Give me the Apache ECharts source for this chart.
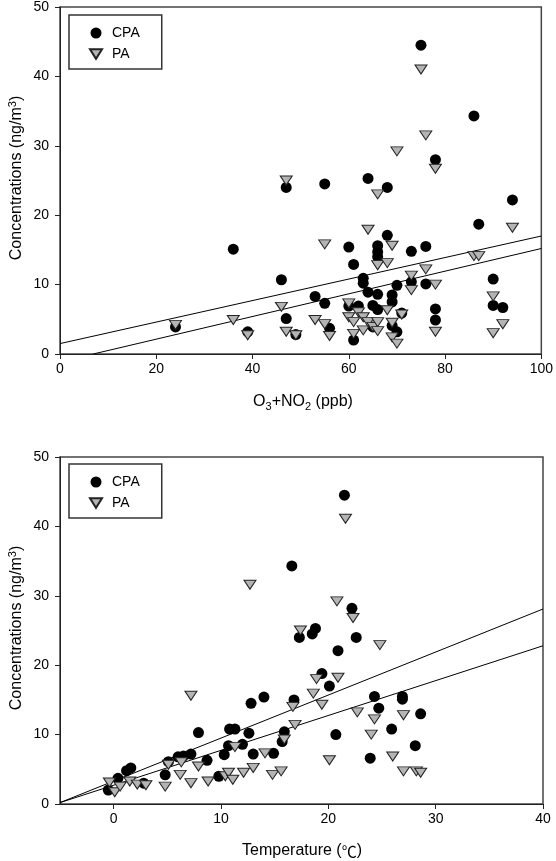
<!DOCTYPE html>
<html>
<head>
<meta charset="utf-8">
<script src="https://cdn.jsdelivr.net/npm/echarts@6/dist/echarts.min.js"></script>
<style>
  html, body {margin: 0; padding: 0; background: #fff;}
  #chart {width: 556px; height: 861px;}
</style>
</head>
<body>
<div id="chart"></div>
<script>
// top panel: O3+NO2 (ppb) vs concentration
const topCPA = [
  [24, 3.9], [36, 15.1], [39, 3.2], [46, 10.7], [47, 24], [47, 5.1], [49, 2.8], [53, 8.3],
  [55, 24.5], [55, 7.3], [56, 3.7], [60, 15.4], [60, 6.9], [61, 12.9], [61, 2.0], [62, 6.9],
  [63, 10.9], [63, 10.2], [64, 25.3], [64, 8.9], [65, 7.0], [65, 3.9], [66, 15.6], [66, 14.7],
  [66, 14.0], [66, 8.6], [66, 6.4], [68, 24], [68, 17.1], [69, 8.5], [69, 7.5], [69, 4.1],
  [70, 9.9], [70, 3.2], [71, 5.9], [73, 14.8], [73, 10.4], [75, 44.5], [76, 15.5], [76, 10.1],
  [78, 28], [78, 6.5], [78, 4.9], [86, 34.3], [87, 18.7], [90, 10.8], [90, 7.0], [92, 6.7], [94, 22.2],
]
const topPA = [
  [24, 4.2], [36, 4.9], [39, 2.7], [46, 6.8], [47, 25], [47, 3.2], [49, 2.7], [53, 4.9],
  [55, 15.8], [55, 4.3], [56, 2.6], [60, 7.3], [60, 5.3], [61, 4.6], [61, 2.9], [62, 6.0],
  [63, 5.3], [63, 3.4], [64, 17.9], [64, 4.6], [65, 3.9], [66, 23], [66, 12.8], [66, 4.6],
  [66, 3.3], [68, 13.1], [68, 6.3], [69, 15.6], [69, 4.5], [69, 2.4], [70, 29.2], [70, 1.5],
  [71, 5.7], [73, 11.3], [73, 9.2], [75, 41], [76, 31.5], [76, 12.2], [78, 26.7], [78, 10],
  [78, 3.2], [86, 14.1], [87, 14.1], [90, 8.3], [90, 3.0], [92, 4.3], [94, 18.2],
]
const topFitCPA = [[0, 1.5], [100, 17.0]]
const topFitPA = [[6.9, 0], [100, 15.2]]

// bottom panel: temperature vs concentration
const botCPA = [
  [-0.5, 2.0], [0.4, 3.7], [1.2, 4.8], [1.6, 5.2], [2.8, 3.0], [4.8, 4.2], [5.1, 6.1], [6, 6.8],
  [6.5, 6.9], [7.2, 7.2], [7.9, 10.3], [8.7, 6.3], [9.8, 4.0], [10.3, 7.1], [10.7, 8.4], [10.8, 10.8],
  [11.3, 10.8], [12, 8.6], [12.6, 10.2], [12.8, 14.5], [13, 7.2], [14, 15.4], [14.9, 7.3], [15.7, 9.0],
  [15.9, 10.4], [16.6, 34.3], [16.8, 15], [17.3, 24], [18.5, 24.5], [18.8, 25.3], [19.4, 18.8],
  [20.1, 17], [20.7, 10], [20.9, 22.1], [21.5, 44.5], [22.2, 28.2], [22.6, 24], [23.9, 6.6],
  [24.3, 15.5], [24.7, 13.8], [25.9, 10.8], [26.9, 15.5], [26.9, 15.1], [28.1, 8.4], [28.6, 13],
]
const botPA = [
  [-0.4, 3.1], [0.1, 1.7], [0.6, 2.5], [1.5, 3.25], [2.2, 2.8], [3.0, 2.7], [4.8, 2.5], [5.1, 5.65],
  [6.2, 4.2], [6.3, 6.0], [7.2, 15.6], [7.2, 3.0], [7.9, 5.4], [8.8, 3.25], [10.4, 4.0], [10.7, 4.5],
  [11.1, 3.5], [11.3, 8.2], [12.1, 4.5], [12.7, 31.6], [13, 5.2], [14.1, 7.3], [14.8, 4.2], [15.6, 4.7],
  [15.9, 9.3], [16.7, 14], [16.9, 11.4], [17.4, 25], [18.6, 15.9], [18.9, 18], [19.4, 14.3],
  [20.1, 6.3], [20.8, 29.2], [20.9, 18.2], [21.6, 41.1], [22.3, 26.8], [22.7, 13.2], [24, 10],
  [24.3, 12.2], [24.8, 22.9], [26, 6.85], [27, 12.8], [27, 4.7], [28.2, 4.7], [28.6, 4.5],
]
const botFitCPA = [[-5, 0.2], [40, 28.1]]
const botFitPA = [[-5, 0.2], [40, 22.8]]

const botXTicks = [0, 10, 20, 30, 40]

const font = 'Liberation Sans, Arial, sans-serif'
const tri = 'path://M0,0 L10,0 L5,8 Z'

const chart = echarts.init(document.getElementById('chart'))

const axLine = {show: true, onZero: false, lineStyle: {color: '#222', width: 1}}
const axTick = {show: true, length: 5, lineStyle: {color: '#222'}}
const axLabel = {color: '#000', fontSize: 14, fontFamily: font, margin: 8}

/** @param {number} i */
function yAxis(i) {
  return {
    type: 'value', gridIndex: i, min: 0, max: 50, interval: 10,
    axisLine: axLine, axisTick: axTick,
    axisLabel: {...axLabel, margin: 11},
    splitLine: {show: false},
  }
}

/** @param {string} name @param {*} data @param {number} i */
function scat(name, data, i) {
  const isPA = name === 'PA'
  return {
    name, type: 'scatter', data, xAxisIndex: i, yAxisIndex: i, z: 3,
    symbol: isPA ? tri : 'circle',
    symbolSize: isPA ? [12, 9] : 11,
    itemStyle: isPA
      ? {color: '#b4b4b4', borderColor: '#222', borderWidth: 1, opacity: 1}
      : {color: '#000', opacity: 1},
    emphasis: {disabled: true},
  }
}

/** @param {*} data @param {number} i */
function fit(data, i) {
  return {
    type: 'line', data, xAxisIndex: i, yAxisIndex: i, z: 2,
    symbol: 'none', silent: true,
    lineStyle: {color: '#000', width: 1},
  }
}

/** @param {number} top */
function legend(top) {
  return {
    left: 69, top, orient: 'vertical',
    data: ['CPA', 'PA'],
    itemWidth: 12, itemHeight: 11, itemGap: 7,
    padding: [11, 22, 8, 20],
    borderColor: '#333', borderWidth: 1.5,
    selectedMode: false,
    textStyle: {color: '#000', fontSize: 14, fontFamily: font, padding: [0, 0, 0, 5]},
  }
}

const rich = {
  a: {fontSize: 16, fontFamily: font, color: '#000', lineHeight: 20},
  deg: {fontSize: 15, fontFamily: 'Noto Sans CJK SC', color: '#000', lineHeight: 20},
  sub: {fontSize: 11, fontFamily: font, color: '#000', lineHeight: 10, verticalAlign: 'bottom'},
  sup: {fontSize: 11, fontFamily: font, color: '#000', lineHeight: 10, verticalAlign: 'top'},
}

/** @param {number} x @param {number} y @param {string} text @param {number} [rot] */
function label(x, y, text, rot = 0) {
  return {
    type: 'text', x, y, rotation: rot,
    style: {text, rich, align: 'center', verticalAlign: 'middle', font: `16px ${font}`, fill: '#000'},
  }
}

const yTitle = '{a|Concentrations (ng/m}{sup|3}{a|)}'

chart.setOption({
  animation: false,
  backgroundColor: '#fff',
  grid: [
    {left: 60, top: 7, width: 483, height: 347, show: true, borderColor: '#444', borderWidth: 1.5},
    {left: 60, top: 457, width: 483, height: 347, show: true, borderColor: '#444', borderWidth: 1.5},
  ],
  legend: [legend(15), legend(464)],
  xAxis: [
    {
      type: 'value', gridIndex: 0, min: 0, max: 100, interval: 20,
      axisLine: axLine, axisTick: axTick, axisLabel: axLabel, splitLine: {show: false},
    },
    {
      type: 'value', gridIndex: 1, min: -5, max: 40,
      axisLine: axLine,
      axisTick: {...axTick, customValues: botXTicks},
      axisLabel: {...axLabel, customValues: botXTicks},
      splitLine: {show: false},
    },
  ],
  yAxis: [yAxis(0), yAxis(1)],
  series: [
    fit(topFitCPA, 0), fit(topFitPA, 0),
    scat('CPA', topCPA, 0), scat('PA', topPA, 0),
    fit(botFitCPA, 1), fit(botFitPA, 1),
    scat('CPA', botCPA, 1), scat('PA', botPA, 1),
  ],
  graphic: [
    label(303, 402, '{a|O}{sub|3}{a|+NO}{sub|2}{a| (ppb)}'),
    label(302, 851, '{a|Temperature (}{deg|℃}{a|)}'),
    label(17, 178, yTitle, Math.PI / 2),
    label(17, 628, yTitle, Math.PI / 2),
  ],
})
</script>
</body>
</html>
